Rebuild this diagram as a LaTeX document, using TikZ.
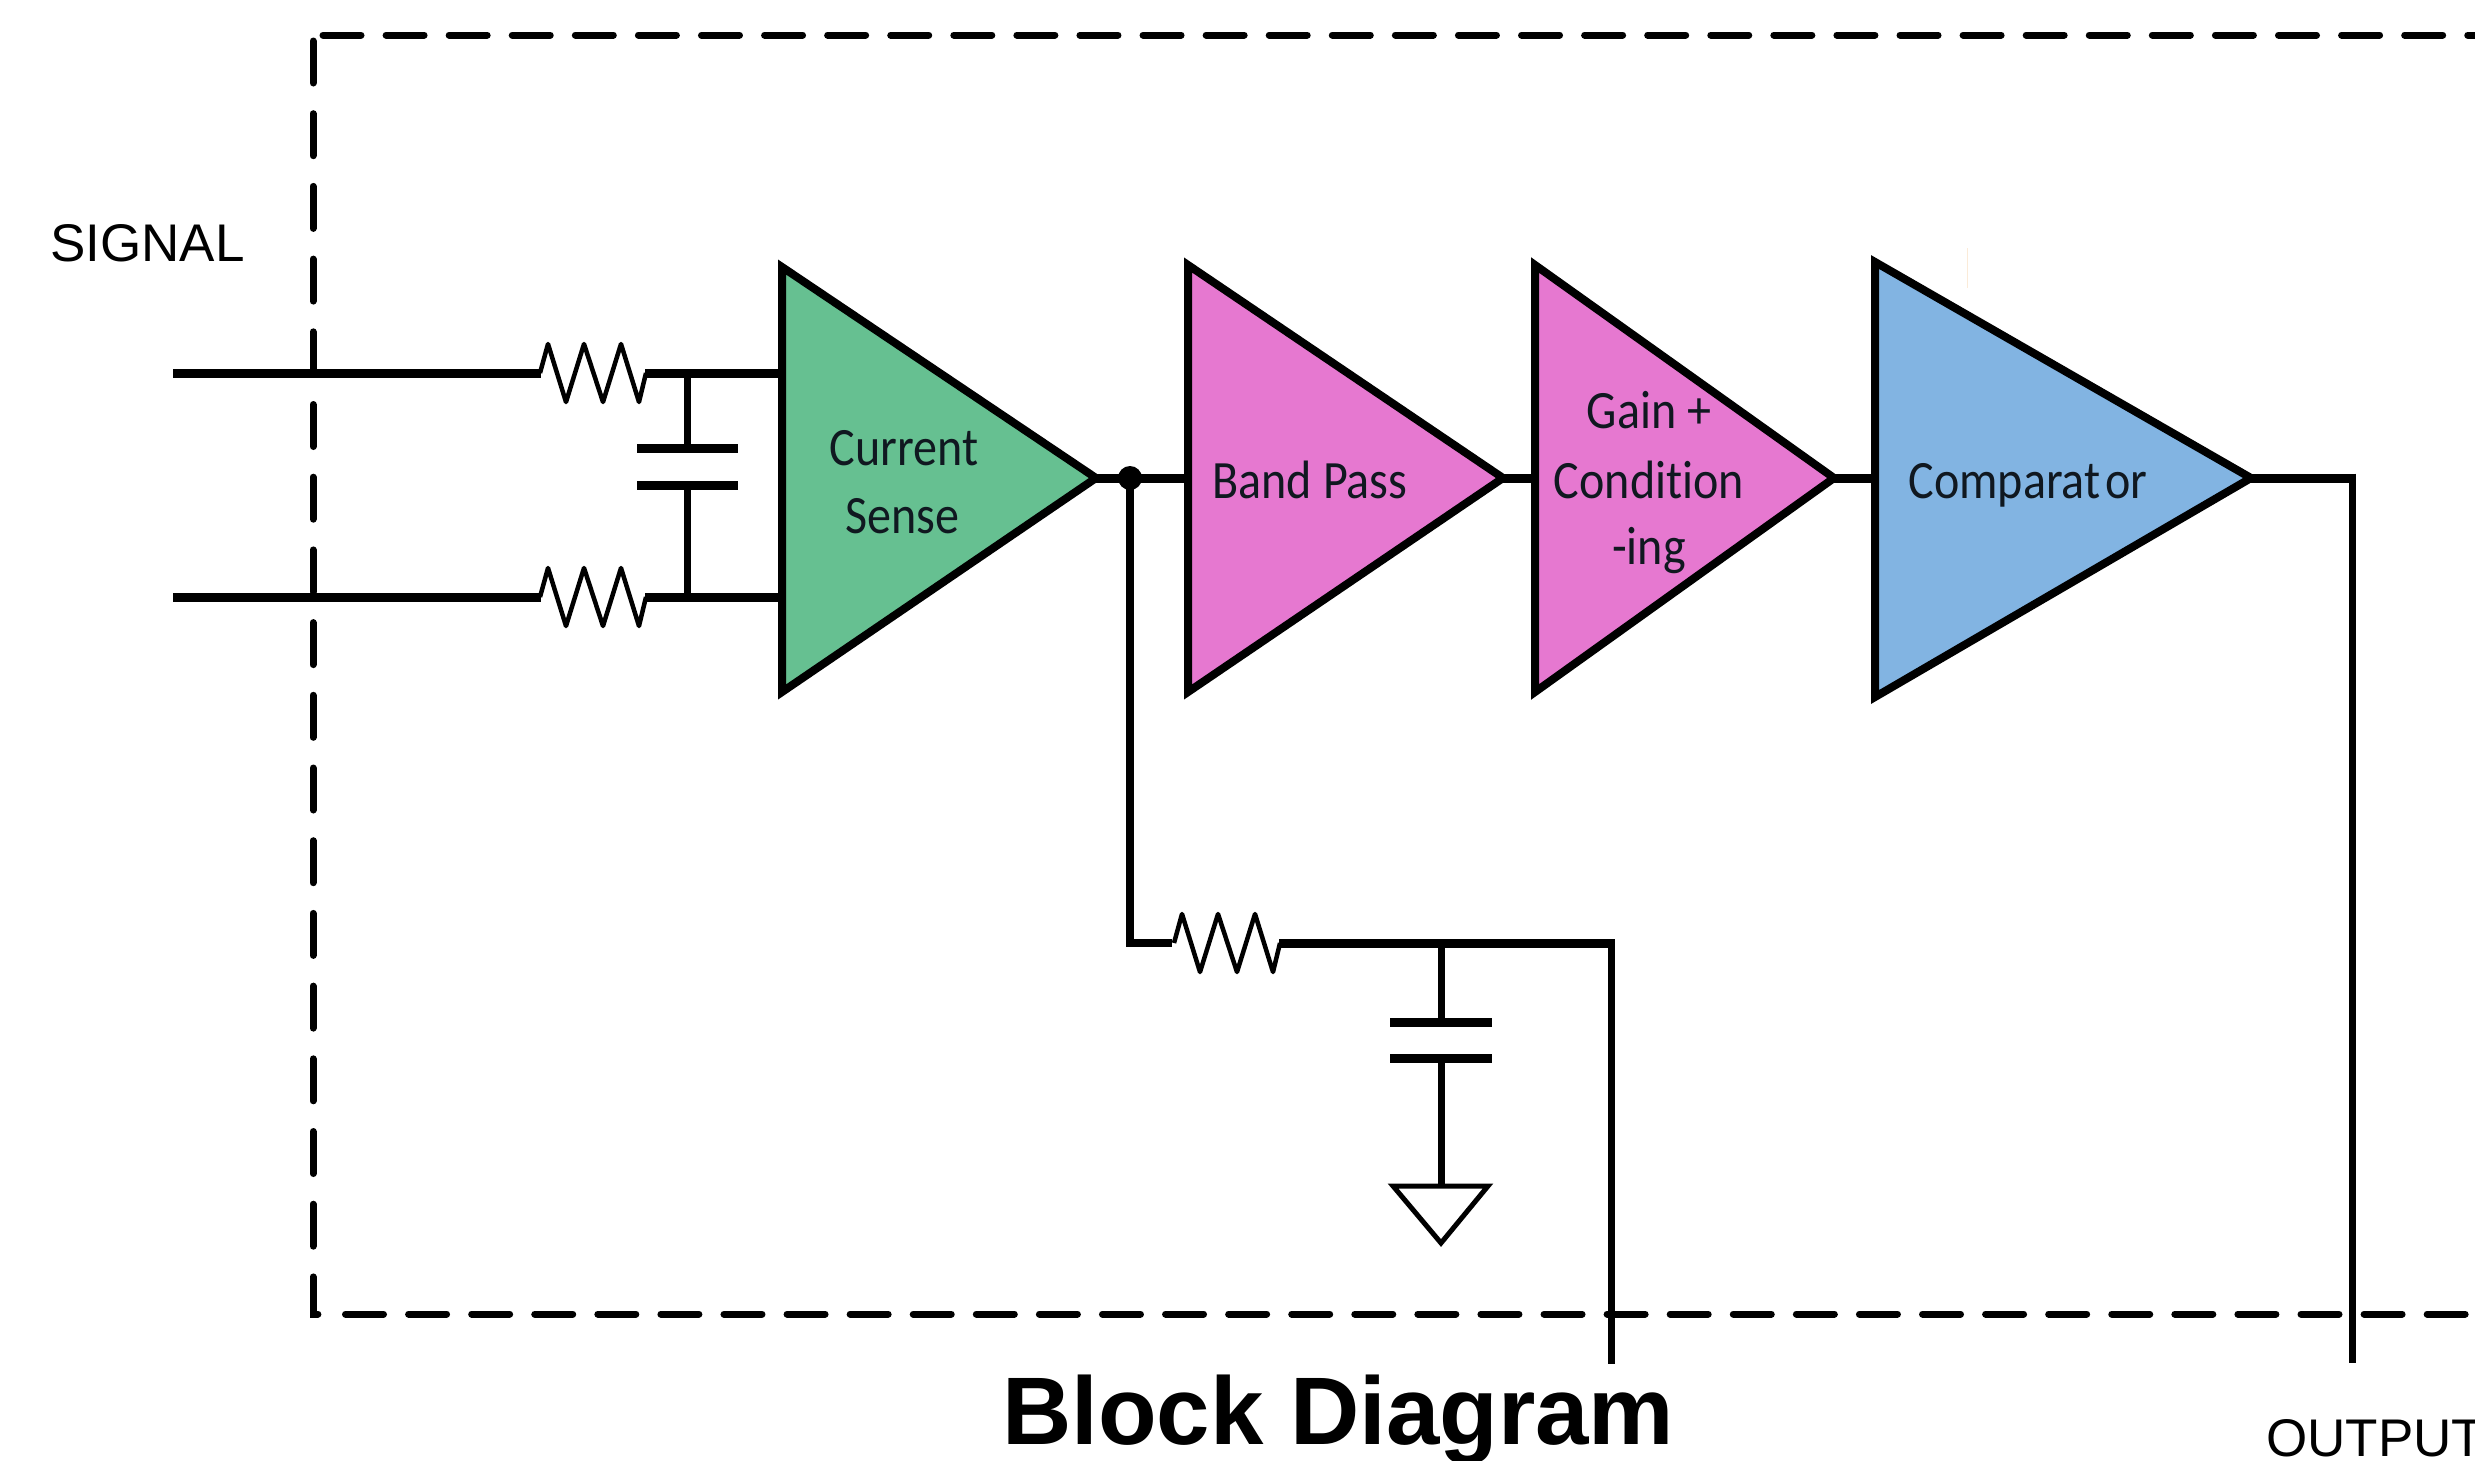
\documentclass[tikz,border=0pt]{standalone}
\usepackage{fontspec}
\setmainfont{Liberation Sans}
\newfontfamily\ampfont[FakeStretch=0.89,Ligatures={NoCommon}]{Carlito}
\definecolor{ampgreen}{HTML}{66C091}
\definecolor{amppink}{HTML}{E678D0}
\definecolor{ampblue}{HTML}{82B4E2}
\definecolor{amptext}{HTML}{101820}
\definecolor{faintmark}{HTML}{FBEBD8}
\tikzset{
  wire/.style={line width=9pt,line cap=butt},
  thinwire/.style={line width=7pt,line cap=butt},
  plate/.style={line width=9pt,line cap=butt},
  amp/.style={draw=black,line width=8pt,line join=miter},
  hdash/.style={line width=7pt,line cap=round,dash pattern=on 38pt off 25.08pt},
  vdash/.style={line width=7pt,line cap=round,dash pattern=on 42pt off 30.7pt},
  lab/.style={inner sep=0pt,anchor=base west,font=\fontsize{53}{60}\selectfont},
  amplab/.style={inner sep=0pt,anchor=base,text=amptext,font=\ampfont\fontsize{54}{60}\selectfont},
  resistor/.pic={
    \draw[line width=4.5pt,line join=round] (-50,0) -- (-42,-29) -- (-24,29) -- (-6,-29) -- (13,29) -- (31,-29) -- (49,29) -- (56,0);
  }
}
\begin{document}
\begin{tikzpicture}[x=1pt,y=-1pt]
\useasboundingbox (0,0) rectangle (2475,1460);
\fill[white] (0,0) rectangle (2475,1460);

% dashed enclosure
\coordinate (boxTL) at (323,35);
\coordinate (boxTR) at (2475,35);
\coordinate (boxLT) at (313,41);
\coordinate (boxLB) at (313,1314);
\coordinate (boxHook) at (318,1314);
\coordinate (boxBL) at (345.5,1314);
\coordinate (boxBR) at (2475,1314);
\draw[hdash] (boxTL) -- (boxTR);
\draw[vdash] (boxLT) -- (boxLB) -- (boxHook);
\draw[hdash] (boxBL) -- (boxBR);

% amplifier corners
\coordinate (csT) at (782,267); \coordinate (csB) at (782,692); \coordinate (csO) at (1096,478);
\coordinate (bpT) at (1188,265); \coordinate (bpB) at (1188,692); \coordinate (bpO) at (1503,478);
\coordinate (gcT) at (1535,265); \coordinate (gcB) at (1535,692); \coordinate (gcO) at (1834,478);
\coordinate (cpT) at (1875,262); \coordinate (cpB) at (1875,697); \coordinate (cpO) at (2251,478);

% input wires
\coordinate (inA) at (173,373); \coordinate (inB) at (173,597);
\coordinate (rAl) at (541,373); \coordinate (rAr) at (645,373);
\coordinate (rBl) at (541,597); \coordinate (rBr) at (645,597);
\coordinate (csA) at (782,373); \coordinate (csC) at (782,597);
\coordinate (capTop) at (687,373); \coordinate (capBot) at (687,597);
\coordinate (capP1) at (687,448); \coordinate (capP2) at (687,485);
\draw[wire] (inA) -- (rAl);
\draw[wire] (rAr) -- (csA);
\draw[wire] (inB) -- (rBl);
\draw[wire] (rBr) -- (csC);
\pic at (590,373) {resistor};
\pic at (590,597) {resistor};
\draw[thinwire] (capTop) -- (capP1);
\draw[thinwire] (capP2) -- (capBot);
\draw[plate] (637,448) -- (capP1) -- (738,448);
\draw[plate] (637,485) -- (capP2) -- (738,485);

% chain wires
\coordinate (bpI) at (1188,478); \coordinate (gcI) at (1535,478); \coordinate (cpI) at (1875,478);
\coordinate (junc) at (1130,478);
\coordinate (outC) at (2352,478); \coordinate (outE) at (2352,1363);
\draw[wire] (csO) -- (bpI);
\draw[wire] (bpO) -- (gcI);
\draw[wire] (gcO) -- (cpI);
\draw[wire] (cpO) -- (outC);
\draw[thinwire] (2352,473.5) -- (outE);
\fill (junc) circle (12);

% feedback branch
\coordinate (fbC) at (1130,943); \coordinate (rCl) at (1172,943); \coordinate (rCr) at (1279,943);
\coordinate (fbR) at (1611,943); \coordinate (fbE) at (1611,1364);
\coordinate (gndT) at (1441,1186);
\coordinate (fbTap) at (1441,943);
\coordinate (capP3) at (1441,1022); \coordinate (capP4) at (1441,1058);
\draw[line width=8pt,line join=miter] (junc) -- (fbC) -- (rCl);
\draw[wire] (rCr) -- (fbR);
\draw[thinwire] (1611,939) -- (fbE);
\pic at (1224,943) {resistor};
\draw[thinwire] (fbTap) -- (capP3);
\draw[thinwire] (capP4) -- (gndT);
\draw[plate] (1390,1022) -- (capP3) -- (1492,1022);
\draw[plate] (1390,1058) -- (capP4) -- (1492,1058);
\draw[line width=5pt,line join=miter] (1393,1186) -- (1488,1186) -- (1441,1243) -- cycle;

% amplifiers
\draw[amp,fill=ampgreen] (csT) -- (csO) -- (csB) -- cycle;
\draw[amp,fill=amppink] (bpT) -- (bpO) -- (bpB) -- cycle;
\draw[amp,fill=amppink] (gcT) -- (gcO) -- (gcB) -- cycle;
\draw[amp,fill=ampblue] (cpT) -- (cpO) -- (cpB) -- cycle;
\draw[line width=1pt,faintmark] (1967,248) -- (1967,288);

% texts
\node[amplab] (t1) at (904,465) {Current};
\node[amplab] (t2) at (902,533) {Sense};
\node[amplab] (t3) at (1310,498) {Band Pass};
\node[amplab] (t4) at (1649,428) {Gain +};
\node[amplab] (t5) at (1649,498) {Condition};
\node[amplab] (t6) at (1649,564) {-ing};
\node[amplab] (t7) at (2028,498) {Comparat\kern5pt or};
\node[lab] (sig) at (50,261) {SIGNAL};
\node[lab] (out) at (2266,1456) {OUTPUT};
\node[inner sep=0pt,anchor=base west,font=\bfseries\fontsize{96}{100}\selectfont] (title) at (1002,1444) {Block Diagram};
\end{tikzpicture}
\end{document}
